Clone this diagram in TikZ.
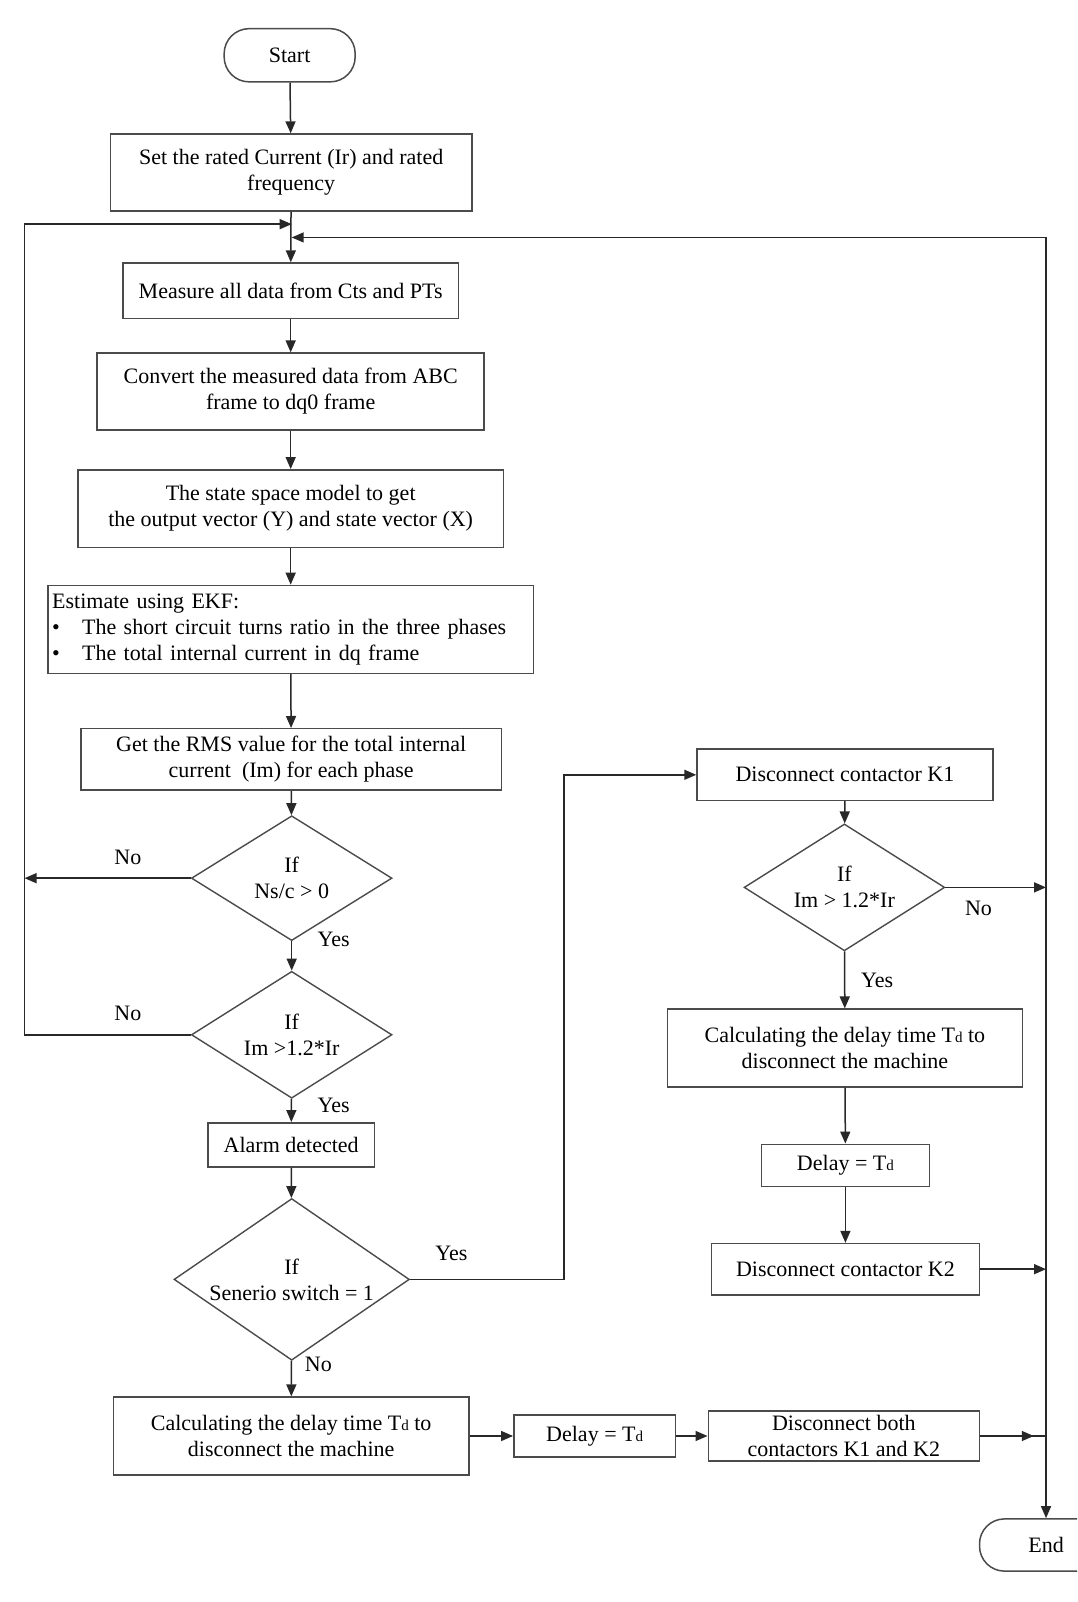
\documentclass[tikz,border=0pt]{standalone}
\usepackage{fontspec}
\setmainfont{Liberation Serif}
\usetikzlibrary{arrows.meta,shapes.geometric,calc}
\definecolor{linecol}{RGB}{40,40,40}
\definecolor{bordercol}{RGB}{75,75,75}
\newcommand{\zb}[1]{\makebox[0pt]{#1}}
\newcommand{\Td}{T{\fontsize{15}{15}\selectfont d}}
\begin{document}
\begin{tikzpicture}[x=1.0235pt,y=-1.0235pt,
  every node/.style={font=\fontsize{22}{26}\selectfont, text=black},
  box/.style 2 args={draw=bordercol, line width=1.5pt, rectangle, minimum width=#1*1.0235pt, minimum height=#2*1.0235pt, inner sep=0pt, align=center},
  dia/.style 2 args={draw=bordercol, line width=1.4pt, diamond, minimum width=#1*1.0235pt, minimum height=#2*1.0235pt, inner sep=0pt, align=center},
  term/.style 2 args={draw=bordercol, line width=1.5pt, rectangle, rounded corners=25pt, minimum width=#1*1.0235pt, minimum height=#2*1.0235pt, inner sep=0pt},
  conn/.style={draw=linecol, line width=1.5pt},
  arr/.style={conn, -{Triangle[length=12pt,width=10pt]}},
  lbl/.style={inner sep=0pt}]
\fill[white] (0,0) rectangle (1052.3,1565.2);
\useasboundingbox (0,0) rectangle (1052.3,1565.2);
\clip (0,0) rectangle (1052.3,1565.2);

% left column
\node[term={128}{52}] (start) at (283,54) {Start};
\node[box={353}{75}] (b1) at (284.5,168.5) {Set the rated Current (Ir) and rated\\frequency};
\node[box={328}{54}] (meas) at (284,284) {Measure all data from Cts and PTs};
\node[box={378}{75}] (conv) at (284,382.5) {Convert the measured data from ABC\\frame to dq0 frame};
\node[box={416}{76}] (state) at (284,497) {The state space model to get\\the output vector (Y) and state vector (X)};
\node[box={474}{86}, align=left, text width=466*1.0235pt] (ekf) at (284,615) {Estimate using EKF:\\\makebox[30pt][l]{\textbullet}The short circuit turns ratio in the three phases\\\makebox[30pt][l]{\textbullet}The total internal current in dq frame};
\node[box={411}{60}] (rms) at (284.5,742) {Get the RMS value for the total internal\\current\ \ (Im) for each phase};
\node[dia={196}{122}] (d1) at (285,858) {\zb{If}\\\zb{Ns/c > 0}};
\node[dia={196}{124}] (d2) at (285,1011) {\zb{If}\\\zb{Im >1.2*Ir}};
\node[box={163}{43}] (alarm) at (284.5,1118.5) {Alarm detected};
\node[dia={230}{158}] (d3) at (285,1250) {\zb{If}\\\zb{Senerio switch = 1}};
\node[box={347}{76}] (calcb) at (284.5,1403) {Calculating the delay time \Td{} to\\disconnect the machine};
\node[box={158}{41}] (delb) at (581,1403) {Delay = \Td};
\node[box={265}{49}] (both) at (824.5,1403) {Disconnect both\\contactors K1 and K2};

% right column
\node[box={289}{50}] (k1) at (825.5,757) {Disconnect contactor K1};
\node[dia={196}{124}] (d4) at (825,867) {\zb{If}\\\zb{Im > 1.2*Ir}};
\node[box={347}{76}] (calcr) at (825.5,1024) {Calculating the delay time \Td{} to\\disconnect the machine};
\node[box={164}{41}] (delr) at (826,1138.5) {Delay = \Td};
\node[box={262}{50}] (k2) at (826,1240) {Disconnect contactor K2};
\node[term={130}{51}] (end) at (1022,1509.5) {End};

% labels
\node[lbl] (n1) at (125,838) {No};
\node[lbl] (y1) at (326,918) {Yes};
\node[lbl] (n2) at (125,990) {No};
\node[lbl] (y2) at (326,1080) {Yes};
\node[lbl] (y3) at (441,1225) {Yes};
\node[lbl] (n3) at (311,1333) {No};
\node[lbl] (n4) at (956,888) {No};
\node[lbl] (y4) at (857,958) {Yes};

% junction coordinates
\coordinate (jl) at (285,219);
\coordinate (jr) at (285,232);
\coordinate (LT) at (24,219);
\coordinate (LB) at (24,1011);
\coordinate (LN) at (24,858);
\coordinate (RT) at (1022,232);
\coordinate (ys) at (551,1250);

% connectors
\draw[arr] (start) -- (b1);
\draw[arr] (b1) -- (meas);
\draw[arr] (meas) -- (conv);
\draw[arr] (conv) -- (state);
\draw[arr] (state) -- (ekf);
\draw[arr] (ekf) -- (rms);
\draw[arr] (rms) -- (d1);
\draw[arr] (d1) -- (d2);
\draw[arr] (d2) -- (alarm);
\draw[arr] (alarm) -- (d3);
\draw[arr] (d3) -- (calcb);
\draw[arr] (calcb) -- (delb);
\draw[arr] (delb) -- (both);
\draw[arr] (d1.west) -- (LN);
\draw[arr] (d2.west) -- (LB) -- (LT) -- (jl);
\draw[arr] (RT) -- (jr);
\draw[arr] (RT) -- (end.north);
\draw[arr] (d3.east) -- (ys) |- (k1.west);
\draw[arr] (k1) -- (d4);
\draw[arr] (d4) -- (calcr);
\draw[arr] (calcr) -- (delr);
\draw[arr] (delr) -- (k2);
\draw[arr] (d4.east) -- (d4.east -| RT);
\draw[arr] (k2.east) -- (k2.east -| RT);
\draw[conn] (both.east) -- (both.east -| RT);
\draw[arr] (both.east) -- ($(both.east -| RT)+(-12,0)$);
\end{tikzpicture}
\end{document}
